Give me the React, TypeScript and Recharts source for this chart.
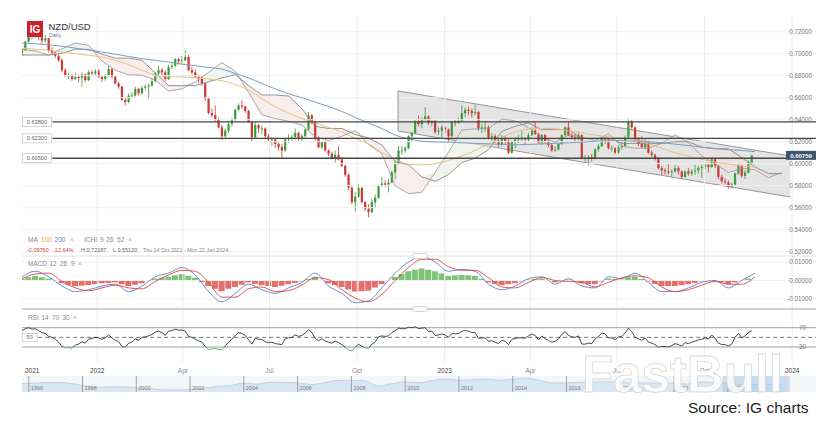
import React from "react";
import {
  ComposedChart,
  AreaChart,
  Bar,
  Line,
  Area,
  XAxis,
  YAxis,
  ReferenceLine,
  ReferenceArea,
  Cell
} from "recharts";

// NZD/USD, Thu 14 Oct 2021 onwards, one candle every 3.5 calendar days: [open, high, low, close]
const candleStep = 3.5;
const ohlc = [
  [.6985,.7045,.6975,.7035],[.7035,.7115,.7025,.7110],[.7110,.7219,.7100,.7165],[.7165,.7190,.7130,.7175],[.7175,.7200,.7140,.7180],
  [.7180,.7185,.7120,.7150],[.7150,.7165,.7090,.7120],[.7120,.7170,.7100,.7140],[.7140,.7145,.7010,.7030],[.7030,.7060,.6995,.7010],
  [.7010,.7025,.6960,.6980],[.6980,.6995,.6925,.6940],[.6940,.6960,.6830,.6850],[.6850,.6870,.6790,.6800],[.6800,.6830,.6770,.6800],
  [.6800,.6815,.6755,.6770],[.6770,.6830,.6760,.6790],[.6790,.6810,.6740,.6780],[.6780,.6830,.6700,.6810],[.6810,.6820,.6740,.6760],
  [.6760,.6850,.6750,.6830],[.6830,.6850,.6800,.6820],[.6820,.6860,.6800,.6840],[.6840,.6860,.6780,.6790],[.6790,.6805,.6740,.6770],
  [.6770,.6815,.6755,.6800],[.6800,.6890,.6790,.6860],[.6860,.6870,.6780,.6790],[.6790,.6800,.6720,.6730],[.6730,.6745,.6680,.6700],
  [.6700,.6710,.6570,.6580],[.6580,.6600,.6529,.6560],[.6560,.6640,.6550,.6620],[.6620,.6650,.6600,.6620],[.6620,.6700,.6610,.6680],
  [.6680,.6690,.6620,.6640],[.6640,.6710,.6630,.6690],[.6690,.6720,.6670,.6700],[.6700,.6730,.6590,.6710],[.6710,.6770,.6700,.6750],
  [.6750,.6830,.6740,.6820],[.6820,.6890,.6800,.6850],[.6850,.6870,.6800,.6830],[.6830,.6850,.6750,.6770],[.6770,.6900,.6760,.6880],
  [.6880,.6920,.6860,.6890],[.6890,.6960,.6880,.6950],[.6950,.6960,.6900,.6930],[.6930,.6980,.6910,.6940],[.6940,.7034,.6930,.6970],
  [.6970,.6990,.6840,.6850],[.6850,.6880,.6810,.6830],[.6830,.6860,.6780,.6790],[.6790,.6810,.6740,.6770],[.6770,.6800,.6710,.6730],
  [.6730,.6740,.6570,.6590],[.6590,.6600,.6450,.6460],[.6460,.6500,.6420,.6440],[.6440,.6530,.6380,.6400],[.6400,.6420,.6320,.6330],
  [.6330,.6350,.6215,.6250],[.6250,.6320,.6230,.6300],[.6300,.6380,.6280,.6360],[.6360,.6420,.6340,.6400],[.6400,.6500,.6390,.6490],
  [.6490,.6550,.6480,.6530],[.6530,.6575,.6500,.6520],[.6520,.6530,.6460,.6480],[.6480,.6490,.6370,.6380],[.6380,.6390,.6197,.6240],
  [.6240,.6380,.6230,.6350],[.6350,.6360,.6280,.6320],[.6320,.6350,.6270,.6320],[.6320,.6330,.6230,.6250],[.6250,.6270,.6200,.6220],
  [.6220,.6240,.6160,.6220],[.6220,.6230,.6140,.6180],[.6180,.6200,.6120,.6150],[.6150,.6180,.6060,.6120],[.6120,.6230,.6110,.6220],
  [.6220,.6270,.6190,.6230],[.6230,.6260,.6210,.6240],[.6240,.6320,.6220,.6280],[.6280,.6290,.6210,.6230],[.6230,.6270,.6200,.6250],
  [.6250,.6320,.6240,.6310],[.6310,.6470,.6300,.6440],[.6440,.6450,.6360,.6380],[.6380,.6390,.6210,.6230],[.6230,.6250,.6140,.6150],
  [.6150,.6210,.6130,.6200],[.6200,.6210,.6110,.6120],[.6120,.6130,.6070,.6090],[.6090,.6110,.6040,.6050],[.6050,.6120,.6010,.6080],
  [.6080,.6160,.6030,.6040],[.6040,.6060,.5970,.5980],[.5980,.5990,.5880,.5900],[.5900,.5910,.5760,.5780],[.5780,.5800,.5630,.5650],
  [.5650,.5740,.5565,.5700],[.5700,.5815,.5690,.5780],[.5780,.5790,.5640,.5650],[.5650,.5660,.5570,.5590],[.5590,.5630,.5512,.5560],
  [.5560,.5680,.5550,.5650],[.5650,.5720,.5600,.5690],[.5690,.5810,.5680,.5800],[.5800,.5880,.5790,.5820],[.5820,.5850,.5790,.5810],
  [.5810,.5860,.5740,.5830],[.5830,.5940,.5820,.5920],[.5920,.6030,.5860,.6000],[.6000,.6160,.5990,.6120],[.6120,.6160,.6080,.6120],
  [.6120,.6160,.6100,.6140],[.6140,.6260,.6130,.6250],[.6250,.6290,.6200,.6280],[.6280,.6400,.6270,.6380],[.6380,.6440,.6340,.6360],
  [.6360,.6420,.6320,.6400],[.6400,.6514,.6390,.6430],[.6430,.6440,.6350,.6370],[.6370,.6410,.6340,.6390],[.6390,.6400,.6270,.6290],
  [.6290,.6330,.6260,.6300],[.6300,.6350,.6240,.6330],[.6330,.6340,.6280,.6310],[.6310,.6320,.6190,.6250],[.6250,.6390,.6240,.6380],
  [.6380,.6400,.6340,.6370],[.6370,.6420,.6360,.6390],[.6390,.6530,.6380,.6460],[.6460,.6510,.6420,.6490],[.6490,.6520,.6440,.6480],
  [.6480,.6500,.6420,.6460],[.6460,.6538,.6440,.6470],[.6470,.6480,.6300,.6320],[.6320,.6360,.6280,.6330],[.6330,.6390,.6290,.6330],
  [.6330,.6350,.6220,.6240],[.6240,.6280,.6200,.6250],[.6250,.6270,.6190,.6210],[.6210,.6230,.6150,.6170],[.6170,.6260,.6160,.6230],
  [.6230,.6250,.6180,.6210],[.6210,.6220,.6085,.6100],[.6100,.6210,.6090,.6200],[.6200,.6240,.6140,.6220],[.6220,.6260,.6190,.6230],
  [.6230,.6300,.6200,.6230],[.6230,.6240,.6180,.6220],[.6220,.6280,.6200,.6260],[.6260,.6330,.6250,.6300],[.6300,.6380,.6260,.6270],
  [.6270,.6280,.6180,.6190],[.6190,.6270,.6170,.6260],[.6260,.6270,.6180,.6200],[.6200,.6220,.6150,.6170],[.6170,.6180,.6110,.6120],
  [.6120,.6160,.6110,.6130],[.6130,.6190,.6120,.6180],[.6180,.6270,.6170,.6260],[.6260,.6340,.6250,.6330],[.6330,.6385,.6250,.6260],
  [.6260,.6280,.6220,.6240],[.6240,.6270,.6200,.6230],[.6230,.6280,.6210,.6260],[.6260,.6265,.6040,.6050],[.6050,.6080,.6020,.6050],
  [.6050,.6080,.5985,.6060],[.6060,.6090,.6020,.6050],[.6050,.6140,.6040,.6130],[.6130,.6180,.6110,.6160],[.6160,.6248,.6150,.6230],
  [.6230,.6240,.6180,.6220],[.6220,.6230,.6130,.6140],[.6140,.6170,.6110,.6140],[.6140,.6150,.6090,.6100],[.6100,.6170,.6090,.6150],
  [.6150,.6200,.6130,.6160],[.6160,.6260,.6150,.6240],[.6240,.6412,.6230,.6380],[.6380,.6400,.6310,.6330],[.6330,.6340,.6200,.6220],
  [.6220,.6240,.6160,.6180],[.6180,.6250,.6140,.6150],[.6150,.6230,.6130,.6200],[.6200,.6210,.6090,.6100],[.6100,.6120,.6060,.6080],
  [.6080,.6090,.6030,.6050],[.6050,.6060,.5950,.5960],[.5960,.5980,.5900,.5940],[.5940,.5960,.5900,.5930],[.5930,.6000,.5900,.5920],
  [.5920,.5950,.5880,.5930],[.5930,.5990,.5920,.5960],[.5960,.5980,.5900,.5930],[.5930,.5940,.5860,.5880],[.5880,.5940,.5870,.5930],
  [.5930,.5960,.5890,.5910],[.5910,.5950,.5890,.5930],[.5930,.5990,.5900,.5940],[.5940,.5980,.5910,.5960],[.5960,.5990,.5870,.5970],
  [.5970,.6010,.5950,.5990],[.5990,.6000,.5920,.5970],[.5970,.6050,.5960,.6040],[.6040,.6050,.5960,.5980],[.5980,.5990,.5860,.5880],
  [.5880,.5900,.5820,.5840],[.5840,.5870,.5810,.5830],[.5830,.5850,.5772,.5790],[.5790,.5830,.5780,.5810],[.5810,.5920,.5800,.5910],
  [.5910,.6000,.5900,.5980],[.5980,.5990,.5870,.5890],[.5890,.5940,.5860,.5920],[.5920,.6030,.5910,.6010],[.6010,.6080,.6000,.6076]
];

// RSI(14), one value per candle
const rsi14 = [
  64,68,70,67,68,64,60,58,52,50, 46,40,31,28,29,27,34,36,41,38,
  46,48,50,49,46,49,55,49,44,41, 31,29,38,40,47,44,50,51,53,56,
  61,63,60,54,63,64,67,65,65,63, 52,50,46,43,40,31,25,26,27,25,
  24,32,40,46,54,60,58,54,45,36, 48,46,46,41,39,40,37,36,35,47,
  49,50,55,52,54,59,66,60,48,43, 47,42,40,38,42,39,35,30,24,22,
  29,36,31,28,27,36,40,51,53,52, 53,60,64,69,68,68,71,70,72,68,
  69,70,62,63,54,55,57,55,50,58, 57,58,63,64,63,60,60,48,49,49,
  42,43,40,37,44,42,35,46,48,49, 49,48,53,57,54,45,53,47,44,40,
  42,47,56,62,54,51,50,53,36,36, 38,37,47,52,59,57,49,49,45,51,
  52,59,69,62,50,47,44,49,40,38, 35,29,31,31,30,33,37,35,32,39,
  37,40,42,45,46,49,47,55,48,38, 35,35,32,36,50,58,49,53,60,64
];

// moving averages and MACD lines, every 14 days
const lineStep = 14;
const ma100 = [
  .7050,.7040,.7030,.7015,.7000,.6985,.6970,.6940,.6900,.6850,.6806,.6790,.6790,.6780,
  .6770,.6755,.6720,.6670,.6590,.6520,.6460,.6410,.6370,.6330,.6290,.6230,.6180,.6100,
  .6040,.5995,.5990,.6000,.6030,.6070,.6120,.6180,.6240,.6290,.6315,.6322,.6318,.6300,
  .6280,.6260,.6245,.6235,.6215,.6180,.6140,.6100,.6070,.6040,.6015,.5995,.5980,.5970
];
const ma200 = [
  .7097,.7090,.7080,.7068,.7050,.7033,.7015,.6995,.6975,.6955,.6940,.6925,.6905,.6890,
  .6875,.6860,.6820,.6780,.6730,.6680,.6635,.6600,.6560,.6520,.6475,.6420,.6370,.6320,
  .6260,.6225,.6205,.6198,.6195,.6190,.6185,.6180,.6175,.6172,.6175,.6180,.6185,.6190,
  .6195,.6205,.6210,.6210,.6205,.6200,.6190,.6178,.6165,.6150,.6138,.6128,.6120,.6110
];
// Ichimoku leading spans (already shifted forward), every 14 days
const spanA = [
  .7037,.7026,.6985,.7045,.7097,.7075,.6933,.6850,.6808,.6805,.6760,.6660,.6680,.6745,.6830,
  .6920,.6840,.6650,.6445,.6410,.6386,.6350,.6245,.6210,.6250,.6300,.6175,.6090,.5800,.5728,
  .5740,.5923,.6105,.6307,.6316,.6320,.6405,.6390,.6327,.6240,.6195,.6260,.6240,.6210,.6270,
  .6160,.6140,.6143,.6185,.6263,.6190,.6070,.6000,.5920,.5958,.5945,.5873,.5920
];
const spanB = [
  .6988,.6988,.6988,.7003,.7040,.7040,.6995,.6960,.6960,.6940,.6825,.6710,.6710,.6710,.6745,
  .6780,.6810,.6710,.6625,.6625,.6615,.6500,.6340,.6320,.6320,.6265,.6235,.6170,.6018,.5990,
  .5880,.5840,.5900,.6010,.6050,.6127,.6295,.6340,.6370,.6310,.6310,.6310,.6230,.6230,.6235,
  .6185,.6185,.6185,.6185,.6200,.6200,.6150,.6136,.6136,.6055,.5970,.5910,.5910
];
const macdLine = [
  .002,.005,.002,-.003,-.006,-.005,-.003,-.002,-.006,-.003,
  .002,.004,.007,.003,-.006,-.0115,-.007,-.002,-.005,-.007,
  -.004,-.001,.004,-.003,-.007,-.012,-.011,-.004,.004,.010,
  .013,.010,.005,.006,.005,-.002,-.005,-.003,.001,.002,
  -.002,.001,-.003,-.004,.002,.001,.004,-.001,-.006,-.006,
  -.004,-.001,0,-.004,0,.004
];
const signalLine = [
  .001,.0035,.004,-.0005,-.004,-.0055,-.004,-.0025,-.004,-.0045,
  -.0005,.003,.0055,.005,-.001,-.009,-.009,-.0045,-.0035,-.006,
  -.0055,-.0025,.0015,.0005,-.005,-.0095,-.0115,-.0075,0,.007,
  .0115,.0115,.0075,.0055,.0055,.0015,-.0035,-.004,-.001,.0015,
  0,-.0005,-.001,-.0035,-.001,.0015,.0025,.0015,-.0035,-.006,
  -.005,-.0025,-.0005,-.002,-.002,.002
];
// MACD histogram, weekly
const histStep = 7;
const macdHist = [
  .001,.0018,.0025,.0018,.001,-.0003,-.0015,-.0023,-.003,-.0028,
  -.0025,-.002,-.0015,-.0013,-.001,-.002,-.003,-.0023,-.0015,-.0003,
  .001,.0015,.002,.0028,.0035,.0025,.0015,-.0008,-.003,-.0045,
  -.0058,-.0045,-.0035,-.0023,-.001,-.0018,-.0025,-.003,-.0035,-.0028,
  -.002,-.0013,-.0005,.0008,.002,.0003,-.0015,-.0025,-.0035,-.0048,
  -.006,-.0058,-.0055,-.0038,-.002,0,.002,.0035,.005,.0058,
  .0065,.0058,.005,.0038,.0025,.0028,.003,.0028,.0025,.0008,
  -.001,-.0018,-.0025,-.002,-.0015,-.0005,.0005,.0008,.001,0,
  -.001,-.0003,.0005,-.0005,-.0015,-.0018,-.002,-.0005,.001,.0008,
  .0005,.0018,.002,.0008,-.0005,-.0018,-.003,-.003,-.003,-.0025,
  -.002,-.0013,-.0005,-.0003,0,-.001,-.002,-.001,0,.001
];

const levels = [0.638, 0.623, 0.605];
const lastPrice = 0.60759;
// descending channel drawn on the chart
const channelDays = [395, 807];
const channelLow = [0.6297, 0.5697];
const channelHigh = [0.6661, 0.6070];

const priceTicks = [0.52, 0.54, 0.56, 0.58, 0.6, 0.62, 0.64, 0.66, 0.68, 0.7, 0.72];
const macdTicks = [-0.01, 0, 0.01];
const xTickDays = [0, 79, 169, 260, 352, 444, 534, 625, 717, 809];
const xTickLabels = ["2021", "2022", "Apr", "Jul", "Oct", "2023", "Apr", "Jul", "Oct", "2024"];

// long-term navigator, half-yearly from 1995.5
const navStart = 1995.5;
const navValues = [
  .65,.66,.69,.70,.67,.58,.51,.53,.53,.50,.46,.42,.41,.43,.48,.55,.58,.67,.64,.71,
  .70,.68,.62,.69,.78,.78,.76,.56,.65,.72,.69,.77,.83,.78,.80,.83,.78,.82,.87,.78,
  .68,.68,.71,.70,.73,.71,.68,.68,.67,.67,.64,.72,.70,.68,.62,.63,.62,.61
];
const navLabelYears = [1996, 1998, 2000, 2002, 2004, 2006, 2008, 2010, 2012, 2014, 2016, 2018, 2020, 2022];

const BULL = "#3c9a3a";
const BEAR = "#cc3731";

const candles = ohlc.map(([o, h, l, c], i) => ({ d: i * candleStep, o, h, l, c, rsi: rsi14[i] }));
const maData = ma100.map((v, i) => ({ d: i * lineStep, ma100: v, ma200: ma200[i] }));
const cloud = spanA.map((a, i) => ({ d: i * lineStep, a, b: spanB[i] }));
const macdData = macdLine.map((m, i) => ({ d: i * lineStep, m, s: signalLine[i] }));
const histData = macdHist.map((h, i) => ({ d: i * histStep, h }));
const channel = channelDays.map((d, i) => ({ d, lo: channelLow[i], hi: channelHigh[i] }));
const navData = navValues.map((v, i) => ({ yr: navStart + i * 0.5, v }));

const rsiMax = Math.max(...rsi14);
const rsiMin = Math.min(...rsi14);
const rsiOff = (rsiMax - 30) / (rsiMax - rsiMin);

function Candle(props: any) {
  const { x, y, width, height, payload } = props;
  if (!payload || height == null) return null;
  const top = Math.min(y, y + height);
  const span = Math.abs(height);
  const ppu = payload.h > payload.l ? span / (payload.h - payload.l) : 0;
  const bodyTop = top + (payload.h - Math.max(payload.o, payload.c)) * ppu;
  const bodyH = Math.max(0.8, Math.abs(payload.o - payload.c) * ppu);
  const color = payload.c >= payload.o ? BULL : BEAR;
  const cx = x + width / 2;
  return (
    <g>
      <line x1={cx} x2={cx} y1={top} y2={top + span} stroke={color} strokeWidth={0.8} />
      <rect x={cx - 1.1} y={bodyTop} width={2.2} height={bodyH} fill={color} />
    </g>
  );
}

function LevelTag(props: any) {
  const { viewBox, text } = props;
  if (!viewBox) return null;
  const x = viewBox.x - 30;
  return (
    <g>
      <rect x={x} y={viewBox.y - 4.5} width={29} height={9} fill="#fff" stroke="#b5b5b5" strokeWidth={0.6} />
      <text x={x + 14.5} y={viewBox.y + 2} fontSize={5.6} textAnchor="middle" fill="#666">{text}</text>
    </g>
  );
}

function PriceTag(props: any) {
  const { viewBox, text } = props;
  if (!viewBox) return null;
  const x = viewBox.x + viewBox.width - 30;
  return (
    <g>
      <rect x={x} y={viewBox.y - 4.5} width={30} height={9} fill="#3b5470" />
      <text x={x + 15} y={viewBox.y + 2.2} fontSize={6} fontWeight={700} textAnchor="middle" fill="#fff">{text}</text>
    </g>
  );
}

function FiftyTag(props: any) {
  const { viewBox } = props;
  if (!viewBox) return null;
  const x = viewBox.x - 16;
  return (
    <g>
      <rect x={x} y={viewBox.y - 4} width={15} height={8} fill="#fff" stroke="#b5b5b5" strokeWidth={0.6} />
      <text x={x + 7.5} y={viewBox.y + 2} fontSize={5.6} textAnchor="middle" fill="#666">50</text>
    </g>
  );
}

function DateTick(props: any) {
  const { x, y, payload } = props;
  const idx = xTickDays.indexOf(payload.value);
  const label = xTickLabels[idx];
  const isYear = /^\d{4}$/.test(label);
  return (
    <text
      x={idx === 0 ? x + 3 : x}
      y={y + 11}
      textAnchor={idx === 0 ? "start" : "middle"}
      fontSize={6.5}
      fill={isYear ? "#444" : "#888"}
    >
      {label}
    </text>
  );
}

function NavTag(props: any) {
  const { viewBox, text } = props;
  if (!viewBox) return null;
  return (
    <text x={viewBox.x + 2} y={viewBox.y + viewBox.height - 2} fontSize={5.5} fill="#777">{text}</text>
  );
}

const axisTick = { fontSize: 6.3, fill: "#777" };
const vGrid = (keyPrefix: string) =>
  xTickDays.slice(1).map((d) => <ReferenceLine key={keyPrefix + d} x={d} stroke="#ebebeb" />);

export default function App() {
  return (
    <div style={{ position: "absolute", left: 0, top: 0, width: 834, height: 431, background: "#fff", fontFamily: "'Liberation Sans', Arial, sans-serif" }}>
      <div style={{ position: "absolute", left: 0, top: 0 }}>
        <ComposedChart width={834} height={262} data={candles} margin={{ top: 16, right: 18, bottom: 6, left: 22 }}>
          <XAxis type="number" dataKey="d" domain={[0, 834]} hide allowDataOverflow />
          <YAxis
            orientation="right"
            mirror
            domain={[0.51609, 0.73427]}
            ticks={priceTicks}
            allowDataOverflow
            tickLine={false}
            axisLine={false}
            tickSize={0}
            tickMargin={4}
            tick={axisTick}
            tickFormatter={(v: number) => v.toFixed(5)}
          />
          {priceTicks.map((v) => (
            <ReferenceLine key={"g" + v} segment={[{ x: 0, y: v }, { x: 807, y: v }]} stroke="#efefef" />
          ))}
          {vGrid("p")}
          <Area
            data={channel}
            dataKey={(p: any) => [p.lo, p.hi]}
            type="linear"
            fill="#d6d6d6"
            fillOpacity={0.65}
            stroke="#7d7d7d"
            strokeWidth={0.8}
            isAnimationActive={false}
          />
          <ReferenceLine
            segment={[{ x: channelDays[0], y: channelLow[0] }, { x: channelDays[0], y: channelHigh[0] }]}
            stroke="#7d7d7d"
            strokeWidth={0.8}
          />
          <Area
            data={cloud}
            dataKey={(p: any) => [p.a, Math.max(p.a, p.b)]}
            type="linear"
            fill="#f3dcdc"
            fillOpacity={0.5}
            stroke="none"
            isAnimationActive={false}
          />
          <Area
            data={cloud}
            dataKey={(p: any) => [p.b, Math.max(p.a, p.b)]}
            type="linear"
            fill="#e1ebe1"
            fillOpacity={0.5}
            stroke="none"
            isAnimationActive={false}
          />
          <Line data={cloud} dataKey="a" type="linear" stroke="#959595" strokeWidth={0.8} dot={false} isAnimationActive={false} />
          <Line data={cloud} dataKey="b" type="linear" stroke="#7c7c7c" strokeWidth={0.8} dot={false} isAnimationActive={false} />
          <Line data={maData} dataKey="ma100" type="monotone" stroke="#e8c17c" strokeWidth={1} dot={false} isAnimationActive={false} />
          <Line data={maData} dataKey="ma200" type="monotone" stroke="#7b9dc3" strokeWidth={1} dot={false} isAnimationActive={false} />
          {levels.map((v) => (
            <ReferenceLine
              key={"l" + v}
              segment={[{ x: 32, y: v }, { x: 834, y: v }]}
              stroke="#454545"
              strokeWidth={1.4}
              label={<LevelTag text={v.toFixed(5)} />}
            />
          ))}
          <Bar dataKey={(c: any) => [c.l, c.h]} barSize={3} shape={(p: any) => <Candle {...p} />} isAnimationActive={false} />
          <ReferenceLine y={lastPrice} stroke="none" label={<PriceTag text={lastPrice.toFixed(5)} />} />
        </ComposedChart>
      </div>

      <div style={{ position: "absolute", left: 0, top: 256 }}>
        <ComposedChart width={834} height={53} data={histData} margin={{ top: 0, right: 18, bottom: 0, left: 22 }}>
          <XAxis type="number" dataKey="d" domain={[0, 834]} hide allowDataOverflow />
          <YAxis
            orientation="right"
            mirror
            domain={[-0.0154, 0.01324]}
            ticks={macdTicks}
            allowDataOverflow
            tickLine={false}
            axisLine={false}
            tickSize={0}
            tickMargin={4}
            tick={axisTick}
            tickFormatter={(v: number) => v.toFixed(5)}
          />
          {macdTicks.map((v) => (
            <ReferenceLine key={"mg" + v} segment={[{ x: 0, y: v }, { x: 807, y: v }]} stroke="#f1f1f1" />
          ))}
          {vGrid("m")}
          <Bar dataKey="h" barSize={6} isAnimationActive={false}>
            {histData.map((p, i) => (
              <Cell key={i} fill={p.h >= 0 ? "#5fb455" : "#df4b45"} fillOpacity={0.8} />
            ))}
          </Bar>
          <Line data={macdData} dataKey="m" type="monotone" stroke="#5c7fd0" strokeWidth={0.9} dot={false} isAnimationActive={false} />
          <Line data={macdData} dataKey="s" type="monotone" stroke="#d8473f" strokeWidth={0.9} dot={false} isAnimationActive={false} />
        </ComposedChart>
      </div>

      <div style={{ position: "absolute", left: 0, top: 309 }}>
        <ComposedChart width={834} height={70} data={candles} margin={{ top: 0, right: 18, bottom: 0, left: 22 }}>
          <defs>
            <linearGradient id="rsiStroke" x1="0" y1="0" x2="0" y2="1">
              <stop offset={rsiOff} stopColor="#333" />
              <stop offset={rsiOff} stopColor="#4fa84a" />
            </linearGradient>
          </defs>
          <XAxis
            type="number"
            dataKey="d"
            domain={[0, 834]}
            allowDataOverflow
            ticks={xTickDays}
            interval={0}
            tick={<DateTick />}
            tickLine={false}
            axisLine={false}
            tickSize={0}
            tickMargin={0}
            height={17}
          />
          <YAxis
            orientation="right"
            mirror
            domain={[-1.1, 108.8]}
            ticks={[30, 70]}
            allowDataOverflow
            tickLine={false}
            axisLine={false}
            tickSize={0}
            tickMargin={10}
            tick={axisTick}
          />
          {vGrid("r")}
          <ReferenceLine y={70} stroke="#8fa3b1" />
          <ReferenceLine y={30} stroke="#8fa3b1" />
          <ReferenceLine
            segment={[{ x: 17, y: 50 }, { x: 834, y: 50 }]}
            stroke="#555"
            strokeDasharray="4 3"
            strokeWidth={0.8}
            label={<FiftyTag />}
          />
          <Line dataKey="rsi" type="linear" stroke="url(#rsiStroke)" strokeWidth={0.9} dot={false} isAnimationActive={false} />
        </ComposedChart>
      </div>

      <div style={{ position: "absolute", left: 22, top: 376, width: 794, height: 16, background: "#f3f6f9" }} />
      <div style={{ position: "absolute", left: 0, top: 376 }}>
        <AreaChart width={834} height={16} data={navData} margin={{ top: 0, right: 18, bottom: 0, left: 22 }}>
          <XAxis type="number" dataKey="yr" domain={[1995.75, 2025.28]} hide allowDataOverflow />
          <YAxis hide domain={[0.333, 0.947]} allowDataOverflow />
          <Area dataKey="v" type="monotone" fill="#dae6f2" fillOpacity={1} stroke="#b3cbe2" strokeWidth={0.8} isAnimationActive={false} />
          <ReferenceArea x1={2021.8} x2={2024.3} fill="#aac6e2" fillOpacity={0.55} stroke="none" />
          {navLabelYears.map((yr) => (
            <ReferenceLine key={"n" + yr} x={yr} stroke="#8c8c8c" strokeWidth={0.8} label={<NavTag text={String(yr)} />} />
          ))}
        </AreaChart>
      </div>

      <svg width={834} height={431} style={{ position: "absolute", left: 0, top: 0, pointerEvents: "none" }}>
        <line x1={22} x2={816} y1={256} y2={256} stroke="#e0e0e0" />
        <line x1={22} x2={816} y1={309} y2={309} stroke="#d0d0d0" strokeWidth={2} />
        <rect x={413} y={253.5} width={14} height={5} rx={1.5} fill="#fff" stroke="#b8b8b8" strokeWidth={0.6} />
        <rect x={413} y={306.5} width={14} height={5} rx={1.5} fill="#fff" stroke="#b8b8b8" strokeWidth={0.6} />

        <rect x={27} y={21} width={16} height={16} fill="#cf2030" />
        <text x={35} y={32.8} textAnchor="middle" fontSize={10} fontWeight={700} fill="#fff">IG</text>
        <text x={48.5} y={29.5} fontSize={9.5} fill="#333">NZD/USD</text>
        <text x={49} y={37.3} fontSize={5.5} fill="#777">Daily</text>

        <g fontSize={6.6}>
          <text x={28} y={241.5} fill="#888">MA</text>
          <text x={41} y={241.5} fill="#f0a830">100</text>
          <text x={54.5} y={241.5} fill="#4a84c8">200</text>
          <text x={70} y={241.5} fill="#aaa">×</text>
          <text x={84} y={241.5} fill="#888">ICHI</text>
          <text x={100} y={241.5} fill="#888">9</text>
          <text x={106} y={241.5} fill="#888">26</text>
          <text x={117} y={241.5} fill="#888">52</text>
          <text x={128} y={241.5} fill="#aaa">×</text>
        </g>
        <g fontSize={5.5}>
          <text x={27} y={252} fill="#d23a3a">-0.09760</text>
          <text x={53} y={252} fill="#d23a3a">-12.64%</text>
          <text x={81} y={252} fill="#666">H 0.72187</text>
          <text x={113} y={252} fill="#666">L 0.55120</text>
          <text x={143} y={252} fontSize={5.3} fill="#888">Thu 14 Oct 2021 - Mon 22 Jan 2024</text>
        </g>
        <g fontSize={6.4} fill="#888">
          <text x={28} y={265.5}>MACD</text>
          <text x={49.5} y={265.5}>12</text>
          <text x={60} y={265.5}>26</text>
          <text x={71} y={265.5}>9</text>
          <text x={78} y={265.5} fill="#aaa">×</text>
          <text x={28} y={319.5}>RSI</text>
          <text x={41.5} y={319.5}>14</text>
          <text x={52} y={319.5}>70</text>
          <text x={62.5} y={319.5}>30</text>
          <text x={73} y={319.5} fill="#aaa">×</text>
        </g>

        <text x={582} y={392} fontSize={51} fontWeight={700} fill="#ffffff" fillOpacity={0.85} stroke="#d9d9d9" strokeWidth={0.8}>FastBull</text>
        <text x={688} y={412.5} fontSize={15.5} fill="#1d1d1d">Source: IG charts</text>
      </svg>
    </div>
  );
}
